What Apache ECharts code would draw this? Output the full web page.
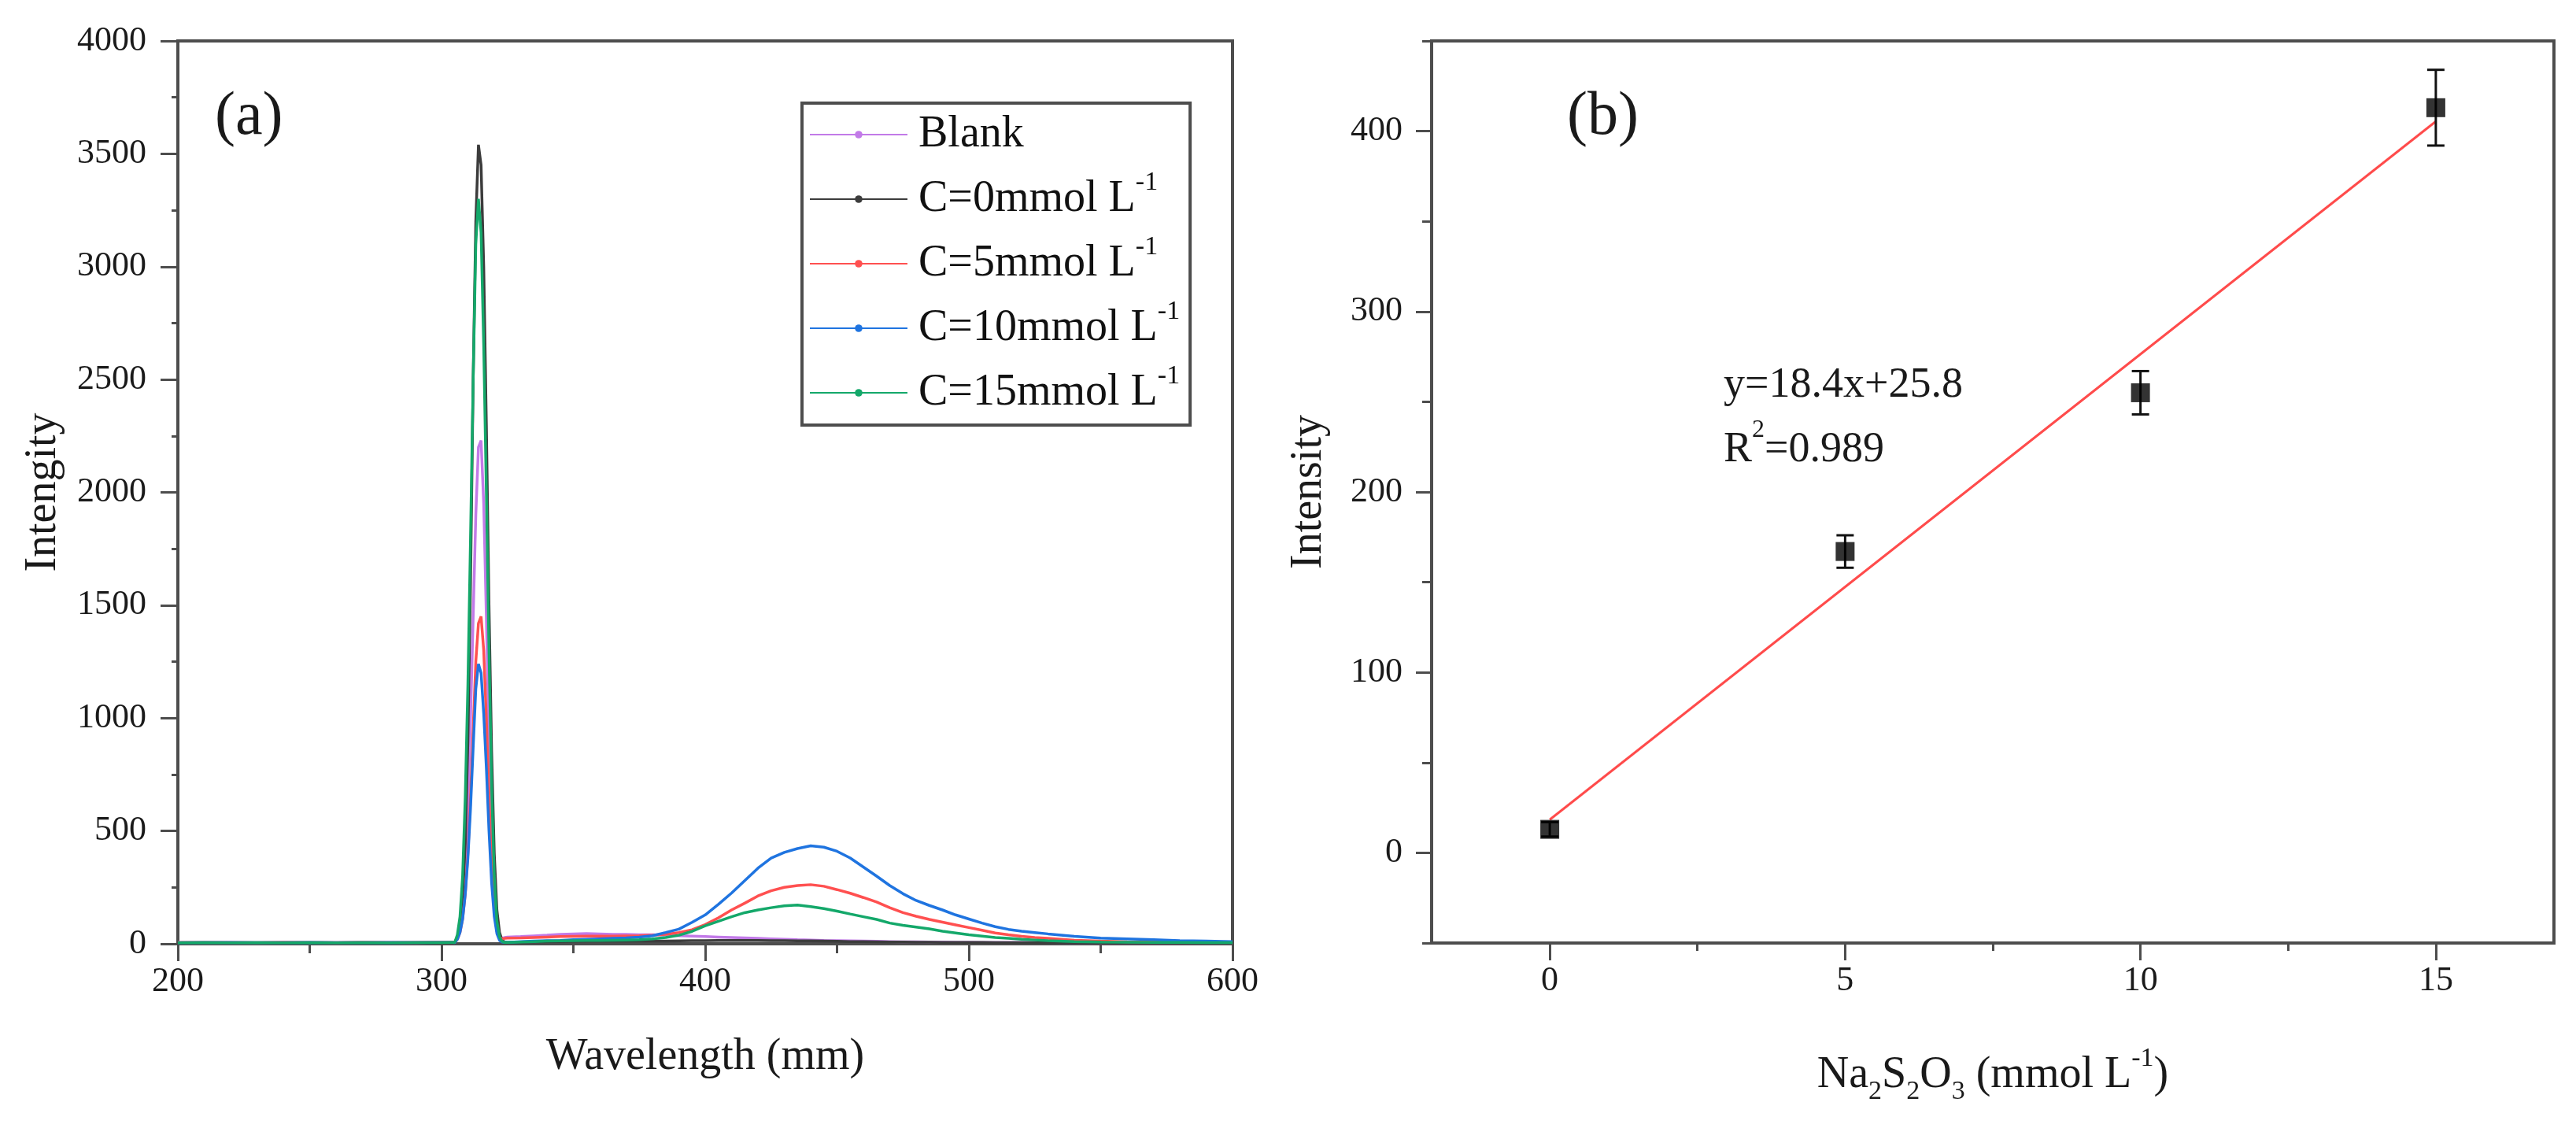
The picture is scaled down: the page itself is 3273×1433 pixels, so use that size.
<!DOCTYPE html>
<html>
<head>
<meta charset="utf-8">
<script src="https://cdn.jsdelivr.net/npm/echarts@6/dist/echarts.min.js"></script>
<style>
  html, body { margin: 0; padding: 0; background: #ffffff; }
  #chart { width: 3273px; height: 1433px; }
</style>
</head>
<body>
<div id="chart"></div>
<script>
// ---------------- Panel (a): emission spectra ----------------
const wavelength = [200,210,220,230,240,250,260,270,280,290,300,304,
  305,306,307,308,309,310,311,312,313,314,315,316,317,318,319,320,321,322,323,324,325,
  330,335,340,345,350,355,360,365,370,375,380,385,390,395,
  400,405,410,415,420,425,430,435,440,445,450,455,460,465,470,475,480,485,490,495,500,505,510,515,520,525,530,
  540,550,560,570,580,590,600];

const seriesNames = ['Blank', 'C=0mmol L-1', 'C=5mmol L-1', 'C=10mmol L-1', 'C=15mmol L-1'];

const blankValues = [5,6,5,4,6,5,5,6,5,6,7,7,
  8,25,70,160,330,620,1000,1450,1900,2200,2230,1950,1450,900,480,200,70,30,25,28,30,
  32,35,38,42,44,45,44,42,42,40,40,38,36,34,
  32,30,28,26,24,22,20,18,17,15,14,13,12,11,10,9,9,8,8,7,7,6,6,6,6,6,6,
  5,5,5,5,5,5,5];

const c0Values = [4,5,4,4,5,4,4,5,4,5,5,6,
  6,30,80,200,450,900,1600,2500,3200,3540,3450,3000,2300,1500,850,400,150,50,15,8,6,
  8,9,10,10,11,12,12,12,12,12,12,12,13,14,
  14,15,15,15,15,14,14,13,13,12,11,10,10,9,8,8,7,7,6,6,6,6,5,5,5,5,5,
  4,4,4,4,4,4,4];

const c5Values = [6,5,6,5,6,6,5,6,6,5,7,7,
  6,20,50,110,220,400,650,950,1250,1420,1450,1300,1000,650,350,150,55,28,22,24,25,
  26,28,30,32,33,34,34,34,35,36,38,42,50,62,
  85,115,150,180,212,235,250,258,262,255,240,224,205,185,160,138,122,108,96,84,72,60,48,40,33,28,24,
  16,12,9,8,7,6,6];

const c10Values = [5,5,6,5,5,6,5,5,6,5,6,6,
  5,20,50,110,220,380,600,870,1130,1240,1200,1020,780,500,270,120,45,15,8,6,6,
  10,12,14,15,18,20,22,24,26,30,36,50,65,95,
  128,175,225,280,335,380,405,422,434,428,410,380,340,300,258,222,192,170,150,128,110,92,76,64,56,50,44,
  33,25,22,18,14,12,10];

const c15Values = [4,5,4,5,4,5,4,5,4,5,5,6,
  6,40,120,300,650,1150,1800,2500,3100,3300,3150,2650,2000,1300,700,300,100,30,10,6,6,
  8,10,12,13,14,15,15,16,17,18,22,28,38,55,
  80,100,120,138,150,160,168,172,165,156,145,132,120,108,92,82,74,66,56,48,40,34,28,24,20,17,14,
  10,8,7,6,6,5,5];

const spectra = [blankValues, c0Values, c5Values, c10Values, c15Values];
const spectraColors = ['#c27ae8', '#3c3c3c', '#ff5050', '#1f74e0', '#14a86a'];

// ---------------- Panel (b): calibration ----------------
const concentration = [0, 5, 10, 15];
const intensity = [13, 167, 255, 413];
const intensityError = [4, 9, 12, 21];
const fitX = [0, 15];
const fitY = [18.4, 405.4];

// tick values
const yTicksB = [0, 100, 200, 300, 400];
const yMinorB = [-50, 50, 150, 250, 350, 450];
const xTicksB = [0, 5, 10, 15];
const xMinorB = [2.5, 7.5, 12.5];

// ---------------- styling ----------------
const FONT = 'Liberation Serif';
const TICK_FONT = 'serif';
const AXIS_COLOR = '#4d4d4d';
const TEXT_COLOR = '#1a1a1a';

const chart = echarts.init(document.getElementById('chart'), null, { renderer: 'canvas' });

function axisLineStyle() {
  return { show: true, onZero: false, lineStyle: { color: AXIS_COLOR, width: 4 } };
}
function labelStyle(margin) {
  return {
    fontFamily: TICK_FONT, fontSize: 44, color: TEXT_COLOR, margin: margin,
    formatter: function (v) { return String(v); }
  };
}

const spectraSeries = spectra.map((vals, i) => ({
  name: seriesNames[i],
  type: 'line',
  xAxisIndex: 0,
  yAxisIndex: 0,
  data: wavelength.map((w, j) => [w, vals[j]]),
  showSymbol: false,
  symbol: 'circle',
  symbolSize: 9,
  color: spectraColors[i],
  lineStyle: { color: spectraColors[i], width: 3.5 },
  itemStyle: { color: spectraColors[i] },
  z: 2 + i
}));

const option = {
  animation: false,
  backgroundColor: '#ffffff',
  grid: [
    { left: 226, top: 52, width: 1340, height: 1147, show: true, borderColor: AXIS_COLOR, borderWidth: 4, backgroundColor: 'transparent' },
    { left: 1819, top: 52, width: 1426, height: 1146, show: true, borderColor: AXIS_COLOR, borderWidth: 4, backgroundColor: 'transparent' }
  ],
  legend: {
    show: true,
    orient: 'vertical',
    left: 1019,
    top: 131,
    data: seriesNames,
    itemWidth: 124,
    itemHeight: 12,
    itemGap: 6,
    padding: [2, 13, 3, 9],
    borderColor: AXIS_COLOR,
    borderWidth: 4,
    backgroundColor: '#ffffff',
    formatter: function (n) {
      return n.endsWith('L-1') ? '{m|' + n.slice(0, -2) + '}{s|-1}' : '{m|' + n + '}';
    },
    textStyle: {
      fontFamily: FONT, fontSize: 56, color: '#111', lineHeight: 76, padding: [0, 0, 0, 9],
      rich: {
        m: { fontFamily: FONT, fontSize: 56, lineHeight: 76, color: '#111' },
        s: { fontFamily: FONT, fontSize: 34, lineHeight: 32, verticalAlign: 'top', color: '#111' }
      }
    }
  },
  xAxis: [
    {
      type: 'value', gridIndex: 0, position: 'bottom', min: 200, max: 600, interval: 100,
      axisLine: axisLineStyle(),
      axisTick: { show: true, inside: false, length: 22, lineStyle: { color: AXIS_COLOR, width: 3 } },
      minorTick: { show: true, splitNumber: 2, length: 12, lineStyle: { color: AXIS_COLOR, width: 3 } },
      splitLine: { show: false }, minorSplitLine: { show: false },
      axisLabel: labelStyle(26),
      name: 'Wavelength (mm)', nameLocation: 'middle', nameGap: 106,
      nameTextStyle: { fontFamily: FONT, fontSize: 56, color: TEXT_COLOR, lineHeight: 76 }
    },
    {
      type: 'value', gridIndex: 1, position: 'bottom', min: -2, max: 17,
      axisLine: axisLineStyle(),
      axisTick: { show: true, inside: false, length: 22, customValues: xTicksB, lineStyle: { color: AXIS_COLOR, width: 3 } },
      splitLine: { show: false },
      axisLabel: Object.assign(labelStyle(26), { customValues: xTicksB }),
      name: '{t|Na}{b|2}{t|S}{b|2}{t|O}{b|3}{t| (mmol L}{p|-1}{t|)}',
      nameLocation: 'middle', nameGap: 130,
      nameTextStyle: {
        fontFamily: FONT, fontSize: 56, color: TEXT_COLOR, lineHeight: 76,
        rich: {
          t: { fontFamily: FONT, fontSize: 56, lineHeight: 76, color: TEXT_COLOR },
          b: { fontFamily: FONT, fontSize: 34, lineHeight: 44, verticalAlign: 'bottom', color: TEXT_COLOR },
          p: { fontFamily: FONT, fontSize: 34, lineHeight: 32, verticalAlign: 'top', color: TEXT_COLOR }
        }
      }
    },
    {
      type: 'value', gridIndex: 1, position: 'bottom', offset: 0, min: -2, max: 17,
      axisLine: { show: false, onZero: false },
      axisTick: { show: true, inside: false, length: 10, customValues: xMinorB, lineStyle: { color: AXIS_COLOR, width: 3 } },
      axisLabel: { show: false },
      splitLine: { show: false }
    }
  ],
  yAxis: [
    {
      type: 'value', gridIndex: 0, position: 'left', min: 0, max: 4000, interval: 500,
      axisLine: axisLineStyle(),
      axisTick: { show: true, inside: false, length: 22, lineStyle: { color: AXIS_COLOR, width: 3 } },
      minorTick: { show: true, splitNumber: 2, length: 8, lineStyle: { color: AXIS_COLOR, width: 3 } },
      splitLine: { show: false }, minorSplitLine: { show: false },
      axisLabel: labelStyle(40),
      name: 'Intengity', nameLocation: 'middle', nameGap: 133,
      nameTextStyle: { fontFamily: FONT, fontSize: 56, color: TEXT_COLOR, lineHeight: 76 }
    },
    {
      type: 'value', gridIndex: 1, position: 'left', min: -50, max: 450,
      axisLine: axisLineStyle(),
      axisTick: { show: true, inside: false, length: 20, customValues: yTicksB, lineStyle: { color: AXIS_COLOR, width: 3 } },
      splitLine: { show: false },
      axisLabel: Object.assign(labelStyle(37), { customValues: yTicksB }),
      name: 'Intensity', nameLocation: 'middle', nameGap: 118,
      nameTextStyle: { fontFamily: FONT, fontSize: 56, color: TEXT_COLOR, lineHeight: 76 }
    },
    {
      type: 'value', gridIndex: 1, position: 'left', offset: 0, min: -50, max: 450,
      axisLine: { show: false, onZero: false },
      axisTick: { show: true, inside: false, length: 12, customValues: yMinorB, lineStyle: { color: AXIS_COLOR, width: 3 } },
      axisLabel: { show: false },
      splitLine: { show: false }
    }
  ],
  series: spectraSeries.concat([
    {
      name: 'fit',
      type: 'line',
      xAxisIndex: 1, yAxisIndex: 1,
      data: fitX.map((x, i) => [x, fitY[i]]),
      showSymbol: false,
      symbol: 'none',
      lineStyle: { color: '#ff4b4b', width: 3 },
      z: 3
    },
    {
      name: 'error',
      type: 'custom',
      xAxisIndex: 1, yAxisIndex: 1,
      data: concentration.map((c, i) => [c, intensity[i], intensityError[i]]),
      encode: { x: 0, y: 1 },
      renderItem: function (params, api) {
        const x = api.value(0), y = api.value(1), e = api.value(2);
        const top = api.coord([x, y + e]);
        const bot = api.coord([x, y - e]);
        const cap = 11;
        return {
          type: 'group',
          children: [
            { type: 'line', shape: { x1: top[0], y1: top[1], x2: bot[0], y2: bot[1] }, style: { stroke: '#111', lineWidth: 3 } },
            { type: 'line', shape: { x1: top[0] - cap, y1: top[1], x2: top[0] + cap, y2: top[1] }, style: { stroke: '#111', lineWidth: 3 } },
            { type: 'line', shape: { x1: bot[0] - cap, y1: bot[1], x2: bot[0] + cap, y2: bot[1] }, style: { stroke: '#111', lineWidth: 3 } }
          ]
        };
      },
      z: 4
    },
    {
      name: 'Intensity',
      type: 'scatter',
      xAxisIndex: 1, yAxisIndex: 1,
      data: concentration.map((c, i) => [c, intensity[i]]),
      symbol: 'rect',
      symbolSize: 24,
      itemStyle: { color: '#000000' },
      z: 5
    }
  ]),
  graphic: [
    { type: 'text', x: 273, y: 150, style: { text: '(a)', font: '78px "Liberation Serif", serif', fill: TEXT_COLOR, textAlign: 'left', textVerticalAlign: 'middle' } },
    { type: 'text', x: 1991, y: 150, style: { text: '(b)', font: '78px "Liberation Serif", serif', fill: TEXT_COLOR, textAlign: 'left', textVerticalAlign: 'middle' } },
    {
      type: 'text', x: 2190, y: 449,
      style: {
        text: '{t|y=18.4x+25.8}\n{t|R}{s|2}{t|=0.989}',
        textAlign: 'left', textVerticalAlign: 'top',
        fill: TEXT_COLOR,
        rich: {
          t: { fontFamily: FONT, fontSize: 54, lineHeight: 82, fill: TEXT_COLOR, color: TEXT_COLOR },
          s: { fontFamily: FONT, fontSize: 32, lineHeight: 48, verticalAlign: 'top', fill: TEXT_COLOR, color: TEXT_COLOR }
        }
      }
    }
  ]
};

chart.setOption(option);
</script>
</body>
</html>
